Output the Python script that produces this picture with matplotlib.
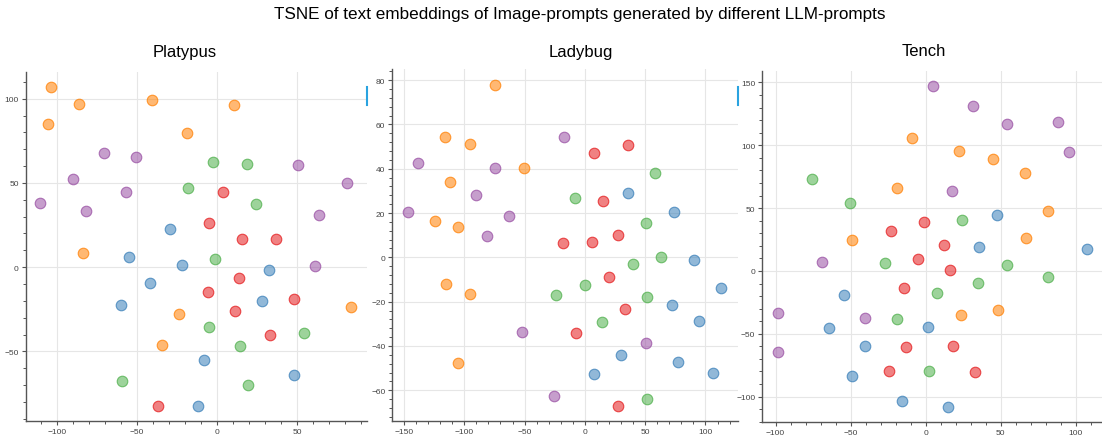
import matplotlib.pyplot as plt
from matplotlib.ticker import MultipleLocator
from matplotlib.colors import to_rgba
from matplotlib.lines import Line2D

# Toa do TSNE doc tu hinh (x, y)
platypus_orange = [(-103.5, 107), (-85.8, 97.2), (-105.2, 85.3), (-40.6, 99.4), (10.8, 96.4),
                   (-18.75, 79.6), (-83.5, 8.5), (-23.75, -27.8), (-34.4, -46), (83.75, -23.8)]
platypus_purple = [(-70.2, 67.9), (-50.6, 65.7), (-89.6, 52.6), (-56.9, 44.8), (-110.2, 38.1),
                   (-81.7, 33.3), (50.6, 60.9), (81, 50.2), (63.75, 30.8), (61, 0.4)]
platypus_green = [(-2.5, 62.7), (18.75, 61.5), (-18.3, 47), (24.2, 37.5), (-1, 4.6),
                  (-5, -35.3), (14.4, -46.6), (54.2, -38.9), (-59.4, -67.9), (19.2, -69.8)]
platypus_red = [(3.75, 44.4), (-5, 26.4), (15.6, 16.9), (37.1, 16.7), (13.75, -6.2),
                (-5.8, -14.7), (11.5, -26), (48.1, -18.8), (32.9, -40.5), (-36.5, -82.3)]
platypus_blue = [(-29.2, 22.4), (-54.6, 5.8), (-21.7, 1.4), (32.5, -1.8), (-41.9, -9.5),
                 (-59.8, -22.2), (28.1, -20), (-7.9, -55.2), (47.9, -64.3), (-11.9, -82.3)]

ladybug_orange = [(-74.6, 78), (-116.3, 54.1), (-95.3, 51.1), (-50.8, 40.2), (-112.2, 34),
                  (-124.6, 16.4), (-105.2, 13.8), (-115.2, -11.9), (-95.3, -16.7), (-105, -47.8)]
ladybug_purple = [(-17.1, 54.3), (-138.1, 42.4), (-74.6, 40.3), (-90.3, 28.1), (-146.7, 20.6),
                  (-62.7, 18.6), (-80.9, 9.6), (-52.5, -33.8), (51.1, -38.8), (-25.7, -62.6)]
ladybug_red = [(7.5, 47.1), (35.4, 50.7), (14.9, 25.6), (-18, 6.3), (5.8, 6.8),
               (27.1, 9.9), (19.9, -8.7), (33.1, -23.2), (-7.2, -34.1), (27.1, -66.9)]
ladybug_green = [(58, 38), (-8.6, 26.8), (50.3, 15.6), (63, 0.3), (40.3, -3),
                 (0, -12.6), (-23.8, -16.8), (51.9, -18), (14.1, -29), (51.9, -64.1)]
ladybug_blue = [(35.4, 28.9), (74.3, 20.3), (90.1, -1.4), (112.7, -14), (72.1, -21.4),
                (94.8, -28.9), (29.8, -43.9), (77.3, -47.4), (7.5, -52.5), (106.6, -52)]

tench_purple = [(5.1, 146.9), (31.8, 131.5), (54, 116.9), (88, 118.8), (95.3, 94.9),
                (17.3, 63.4), (-69.3, 7.4), (-98.4, -33.7), (-98.2, -64.7), (-40.7, -37.6)]
tench_orange = [(-9.3, 105.8), (22, 95.4), (45.1, 89.1), (66, 78.2), (-18.9, 66),
                (81.3, 47.5), (-49.3, 24.4), (66.7, 26.2), (23.8, -34.7), (48, -30.8)]
tench_green = [(-75.8, 72.9), (-50.4, 54.1), (24.2, 40.8), (-27.3, 6.1), (54, 4.5),
               (81.8, -5), (34.7, -9.3), (7.3, -17.8), (-19.1, -38.2), (2.4, -79.3)]
tench_red = [(-1.1, 38.7), (-22.9, 31.8), (12.2, 20.9), (-5.1, 9.3), (16.4, 0.8),
             (-14.4, -13.5), (-12.9, -60.4), (18.4, -59.9), (-24.2, -79.3), (32.7, -80.3)]
tench_blue = [(47.3, 44.5), (35.6, 18.8), (107.6, 17.5), (-54.2, -18.8), (-64.7, -45.3),
              (1.6, -44.3), (-40.4, -59.9), (-49.3, -83.8), (-15.6, -103.1), (15.1, -107.9)]

mau = {"orange": "#ff7f00", "purple": "#984ea3", "green": "#4daf4a",
       "red": "#e41a1c", "blue": "#377eb8"}

panels = [
    ("Platypus", {"orange": platypus_orange, "purple": platypus_purple, "green": platypus_green,
                  "red": platypus_red, "blue": platypus_blue},
     [0.0233, 0.0394, 0.3097, 0.7946], (-119.4, 93.75), (-91.2, 116), 50, 10, 50, 10, 185),
    ("Ladybug", {"orange": ladybug_orange, "purple": ladybug_purple, "green": ladybug_green,
                 "red": ladybug_red, "blue": ladybug_blue},
     [0.356, 0.038, 0.3137, 0.8025], (-159.7, 127), (-74, 85), 50, 10, 20, 4, 581),
    ("Tench", {"orange": tench_orange, "purple": tench_purple, "green": tench_green,
               "red": tench_red, "blue": tench_blue},
     [0.6917, 0.0358, 0.3083, 0.8009], (-108.9, 117.6), (-120.4, 159.3), 50, 10, 50, 10, 924),
]

plt.rcParams['font.family'] = ['Liberation Sans', 'DejaVu Sans']
fig = plt.figure(figsize=(11.02, 4.39), dpi=100)

for ten, nhom, vi_tri, xlim, ylim, xmaj, xmin, ymaj, ymin, tx in panels:
    ax = fig.add_axes(vi_tri)
    for k, diem in nhom.items():
        xs = [p[0] for p in diem]
        ys = [p[1] for p in diem]
        ax.scatter(xs, ys, s=58, facecolor=to_rgba(mau[k], 0.55),
                   edgecolor=to_rgba(mau[k], 0.75), linewidth=0.8, zorder=3)
    ax.set_xlim(*xlim)
    ax.set_ylim(*ylim)
    ax.xaxis.set_major_locator(MultipleLocator(xmaj))
    ax.xaxis.set_minor_locator(MultipleLocator(xmin))
    ax.yaxis.set_major_locator(MultipleLocator(ymaj))
    ax.yaxis.set_minor_locator(MultipleLocator(ymin))
    ax.grid(True, which='major', color='#e6e6e6', linewidth=0.8, zorder=0)
    ax.set_axisbelow(True)
    for s in ['top', 'right']:
        ax.spines[s].set_visible(False)
    for s in ['left', 'bottom']:
        ax.spines[s].set_color('#555555')
        ax.spines[s].set_linewidth(1.0)
    ax.tick_params(which='major', length=3, width=0.8, color='#555555',
                   labelsize=6, labelcolor='#444444', pad=2)
    ax.tick_params(which='minor', length=2, width=0.7, color='#555555')
    fig.text(tx / 1102, 1 - 52 / 439, ten, ha='center', va='center', fontsize=12)

fig.text(580 / 1102, 1 - 15 / 439,
         "TSNE of text embeddings of Image-prompts generated by different LLM-prompts",
         ha='center', va='center', fontsize=12.3)

# vach xanh nho o mep phai (giong giao dien goc)
for xp in [366.5, 737.5]:
    fig.add_artist(Line2D([xp / 1102, xp / 1102], [1 - 88 / 439, 1 - 106 / 439],
                          color='#2aa3e0', linewidth=1.5))

plt.savefig("out.png", dpi=100)
